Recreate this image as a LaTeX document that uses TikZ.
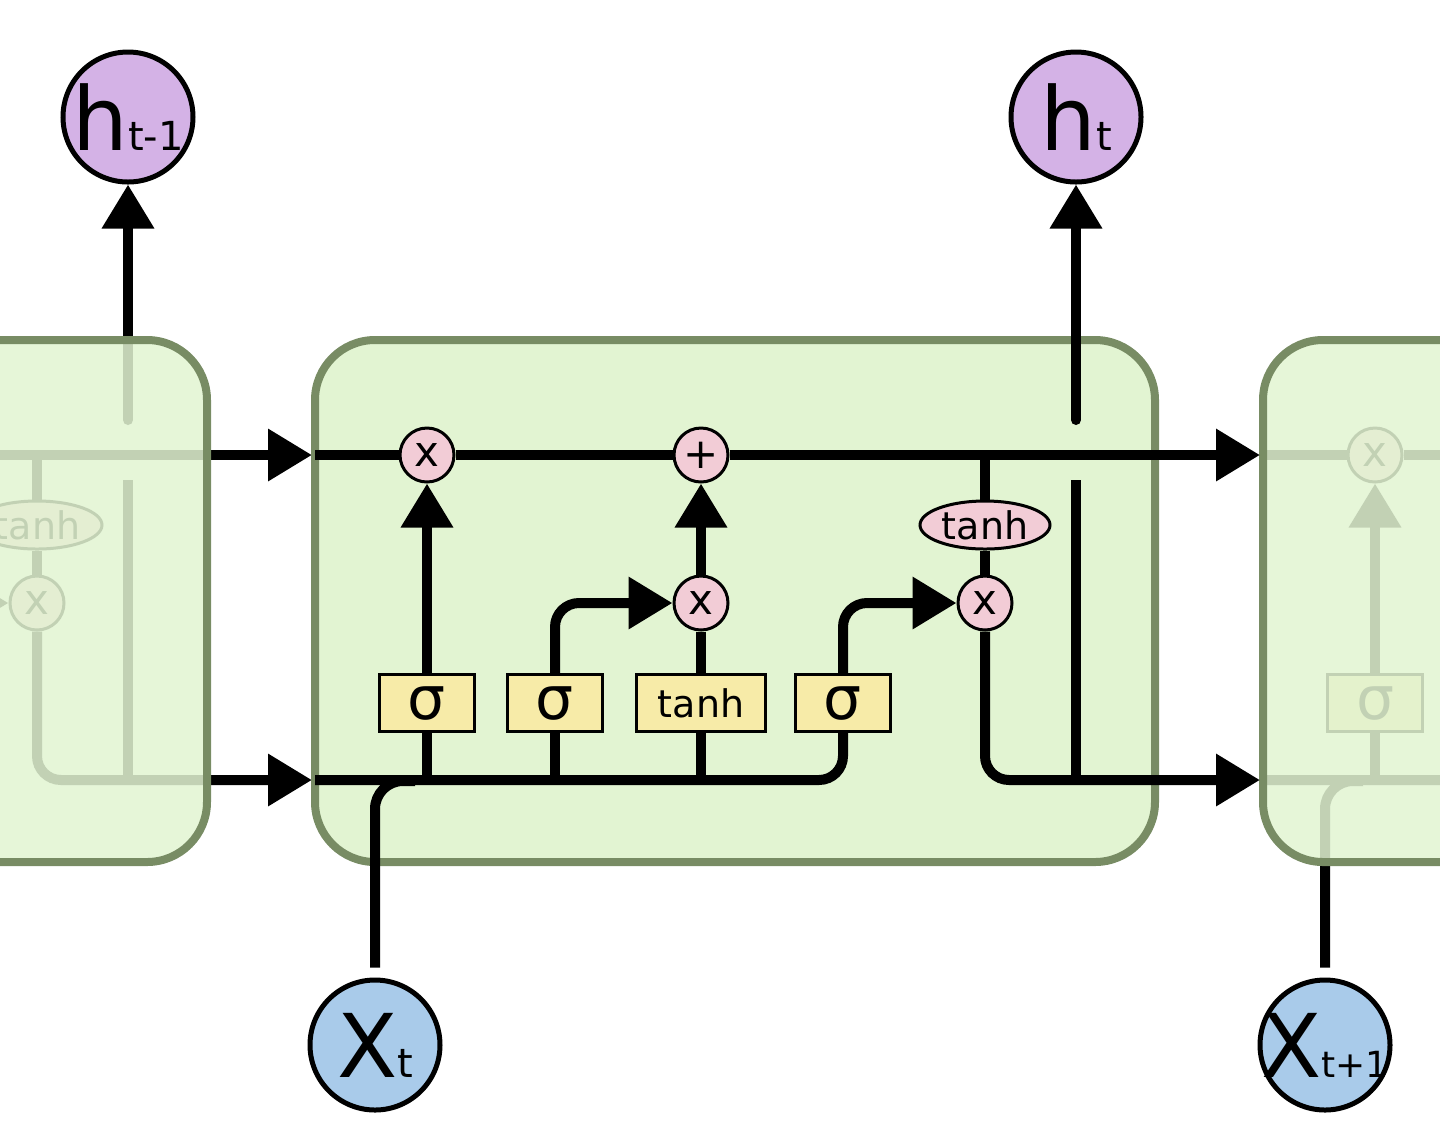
\documentclass[tikz,border=0pt]{standalone}
\usepackage{fontspec}
\setmainfont{DejaVu Sans}
\usetikzlibrary{arrows.meta,shapes.geometric}
\definecolor{CellG}{HTML}{E2F4D2}
\definecolor{CellB}{HTML}{788C64}
\definecolor{OpP}{HTML}{F2CCD6}
\definecolor{GateY}{HTML}{F7EBA8}
\definecolor{HidP}{HTML}{D4B2E6}
\definecolor{InB}{HTML}{A9CBEA}
\newcommand{\ioL}{\fontsize{44}{44}\selectfont}
\newcommand{\ioS}{\fontsize{20}{20}\selectfont}
% one cell, drawn in pixel units of the middle cell
\newcommand{\lstmbody}{%
  \node[op] (xf) at (427,455) {x};
  \node[op] (pl) at (701,455) {+};
  \node[op] (xi) at (701,603) {x};
  \node[op] (xo) at (985,603) {x};
  \node[act] (th) at (985,525) {tanh};
  \node[gate] (gf) at (427,703) {σ};
  \node[gate] (gi) at (555,703) {σ};
  \node[gate,minimum width=64.5pt,font=\fontsize{19}{19}\selectfont] (gc) at (701,703) {tanh};
  \node[gate] (go) at (843,703) {σ};
  \coordinate (cin) at (315,455);
  \coordinate (cout) at (1260,455);
  \coordinate (hin) at (315,780);
  \coordinate (hout) at (1260,780);
  \coordinate (cb) at (985,455);
  \coordinate (hb) at (1076,780);
  \coordinate (hlo) at (1076,480);
  \coordinate (hup) at (1076,420);
  \coordinate (xj) at (415,781);
  % cell state
  \draw[flow] (cin) -- (xf);
  \draw[flow] (xf) -- (pl);
  \draw[arr] (pl) -- (cout);
  % hidden state
  \draw[flow,rounded corners=12pt] (hin) -| (go);
  \foreach \g in {gf,gi,gc}
    \draw[flow] (\g.south |- hin) -- (\g);
  % gates
  \draw[arr] (gf) -- (xf);
  \draw[arr,rounded corners=12pt] (gi) |- (xi);
  \draw[flow] (gc) -- (xi);
  \draw[arr] (xi) -- (pl);
  \draw[arr,rounded corners=12pt] (go) |- (xo);
  % output
  \draw[flow] (cb) -- (th);
  \draw[flow] (th) -- (xo);
  \draw[arr,rounded corners=12pt] (xo) |- (hout);
  \draw[flow] (hb) -- (hlo);
}

\begin{document}
\begin{tikzpicture}[x=0.5pt,y=-0.5pt,
  flow/.style={line width=5pt},
  arr/.style={flow,-{Triangle[length=22pt,width=25pt]}},
  feed/.style={flow,rounded corners=14pt,shorten <=5pt},
  op/.style={circle,draw,fill=OpP,line width=1.5pt,minimum size=27pt,inner sep=0pt,font=\fontsize{21}{21}\selectfont},
  act/.style={ellipse,draw,fill=OpP,line width=1.5pt,minimum width=65pt,minimum height=24pt,inner sep=0pt,font=\fontsize{19}{19}\selectfont},
  gate/.style={rectangle,draw,fill=GateY,line width=1.5pt,minimum width=47.5pt,minimum height=28.5pt,inner sep=0pt,font=\fontsize{30}{30}\selectfont},
  io/.style={circle,draw,line width=2.5pt,minimum size=65pt,inner sep=0pt},
  cellbox/.style={draw=CellB,fill=CellG,line width=4pt,rounded corners=30pt}]
  \useasboundingbox (0,0) rectangle (1440,1132);
  \clip (0,0) rectangle (1440,1132);
  % faded neighbours
  \begin{scope}[shift={(-948,0)},name prefix=L-]
    \lstmbody
    \node[io,fill=HidP,label=center:{\ioL h\ioS t-1}] (h) at (1076,117) {};
    \draw[arr,line cap=round] (hup) -- (h);
    \draw[cellbox,fill opacity=0.86] (315,340) rectangle (1155,862);
  \end{scope}
  \begin{scope}[shift={(948,0)},name prefix=R-]
    \lstmbody
    \node[io,fill=InB,label=center:{\ioL X\fontsize{18}{18}\selectfont t+1}] (x) at (377,1045) {};
    \draw[feed] (x) |- (xj);
    \draw[cellbox,fill opacity=0.86] (315,340) rectangle (1155,862);
  \end{scope}
  % middle cell
  \draw[cellbox] (315,340) rectangle (1155,862);
  \lstmbody
  \node[io,fill=HidP,label=center:{\ioL h\ioS t}] (h) at (1076,117) {};
  \node[io,fill=InB,label=center:{\ioL X\ioS t}] (x) at (375,1045) {};
  \draw[arr,line cap=round] (hup) -- (h);
  \draw[feed] (x) |- (xj);
\end{tikzpicture}
\end{document}
